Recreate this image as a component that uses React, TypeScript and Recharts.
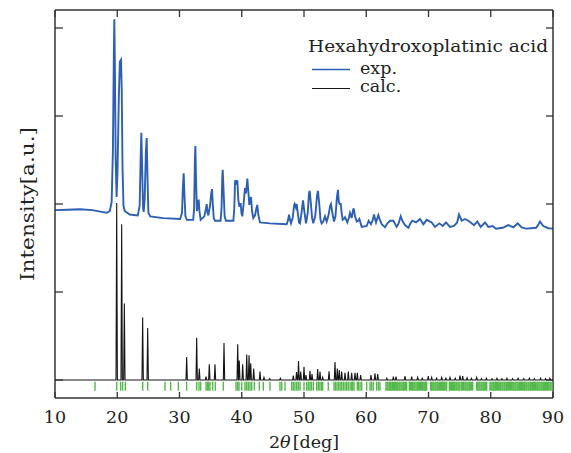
import { ComposedChart, Line, Scatter, XAxis, YAxis, Legend, Label } from 'recharts'

// ── Styles ───────────────────────────────────────────────────────────────────

const FONT = '"DejaVu Serif", serif'
const TEXT_COLOR = '#222222'
const AXIS_COLOR = '#333333'
const EXP_COLOR = '#2d5fb4'
const CALC_COLOR = '#151515'
const REFL_COLOR = '#55b94b'

// ── Data ─────────────────────────────────────────────────────────────────────

const xTicks = [10, 20, 30, 40, 50, 60, 70, 80, 90]
const yTicks = [0, 1, 2, 3, 4]

// measured pattern, [2θ, intensity] (offset by ~1.9)
const expPattern: [number, number][] = [
  [10, 1.93], [12, 1.935], [14, 1.94], [16, 1.93], [17.5, 1.91], [18.3, 1.9], [18.8, 1.92],
  [19.1, 2.02], [19.3, 2.6], [19.45, 3.7], [19.53, 4.1], [19.62, 3.6], [19.75, 2.5], [19.9, 2.08],
  [20.05, 2.4], [20.25, 3.2], [20.42, 3.62], [20.6, 3.64], [20.72, 3.3], [20.85, 2.4], [21.0, 1.98],
  [21.2, 1.92], [22.0, 1.88], [23.3, 1.87], [23.6, 1.98], [23.75, 2.5], [23.87, 2.81], [24.0, 2.4],
  [24.15, 1.95], [24.25, 1.91], [24.4, 2.05], [24.6, 2.6], [24.73, 2.75], [24.86, 2.3], [25.0, 1.9],
  [25.3, 1.86], [27.4, 1.84], [30.1, 1.83], [30.4, 1.9], [30.55, 2.2], [30.67, 2.35], [30.8, 2.1],
  [30.95, 1.86], [31.2, 1.82], [32.2, 1.82], [32.35, 1.95], [32.47, 2.5], [32.55, 2.66], [32.65, 2.3],
  [32.8, 1.92], [32.95, 1.98], [33.08, 2.05], [33.2, 1.92], [33.4, 1.82], [33.99, 1.86], [34.25, 1.95],
  [34.37, 2.0], [34.5, 1.9], [34.63, 1.87], [34.9, 1.98], [35.1, 2.12], [35.22, 2.17], [35.35, 2.0],
  [35.5, 1.84], [35.7, 1.81], [36.6, 1.81], [36.75, 1.95], [36.87, 2.3], [36.94, 2.39], [37.05, 2.2],
  [37.25, 1.86], [37.47, 1.81], [38.65, 1.81], [38.8, 1.95], [38.92, 2.25], [38.97, 2.27], [39.15, 2.22],
  [39.29, 2.27], [39.45, 2.05], [39.6, 1.97], [39.72, 2.0], [39.83, 2.0], [39.95, 1.9], [40.09, 1.86],
  [40.3, 2.0], [40.52, 2.18], [40.68, 2.12], [40.9, 2.29], [41.05, 2.15], [41.22, 1.99], [41.35, 2.05],
  [41.49, 2.08], [41.65, 1.92], [41.86, 1.84], [42.13, 1.87], [42.35, 1.95], [42.5, 1.99], [42.65, 1.88],
  [42.93, 1.79], [44.54, 1.78], [47.22, 1.77], [47.45, 1.82], [47.59, 1.88], [47.75, 1.82], [47.91, 1.78],
  [48.2, 1.85], [48.4, 1.98], [48.5, 2.0], [48.7, 1.96], [48.83, 2.0], [49.0, 1.9], [49.2, 1.79],
  [49.36, 1.78], [49.6, 1.9], [49.84, 2.04], [50.05, 1.92], [50.32, 1.78], [50.6, 1.9], [50.8, 2.12],
  [50.91, 2.15], [51.05, 2.05], [51.3, 1.84], [51.49, 1.78], [51.8, 1.86], [52.1, 2.1], [52.25, 2.15],
  [52.45, 2.0], [52.65, 1.82], [52.84, 1.78], [53.1, 1.8], [53.37, 1.86], [53.64, 1.8], [53.9, 1.86],
  [54.2, 1.98], [54.34, 2.0], [54.55, 1.9], [54.82, 1.8], [55.05, 1.86], [55.3, 2.08], [55.46, 2.16],
  [55.6, 2.02], [55.75, 2.0], [55.9, 2.0], [56.05, 1.9], [56.22, 1.82], [56.4, 1.83], [56.59, 1.85],
  [56.96, 1.79], [57.2, 1.84], [57.39, 1.9], [57.66, 1.84], [57.85, 1.92], [57.98, 1.95], [58.2, 1.86],
  [58.47, 1.8], [58.7, 1.81], [58.89, 1.83], [59.27, 1.74], [60.07, 1.75], [60.39, 1.81], [60.76, 1.77],
  [61.05, 1.82], [61.24, 1.88], [61.57, 1.79], [61.94, 1.875], [62.2, 1.82], [62.48, 1.77], [63.01, 1.735],
  [63.4, 1.78], [63.82, 1.81], [64.35, 1.81], [64.89, 1.74], [65.2, 1.78], [65.53, 1.86], [65.85, 1.8],
  [66.22, 1.76], [66.76, 1.73], [67.1, 1.78], [67.4, 1.81], [68.0, 1.79], [68.63, 1.83], [69.17, 1.77],
  [69.71, 1.82], [70.51, 1.79], [71.04, 1.74], [71.74, 1.78], [72.28, 1.75], [72.81, 1.79], [73.45, 1.74],
  [74.1, 1.75], [74.6, 1.79], [74.9, 1.88], [75.33, 1.81], [75.86, 1.83], [76.4, 1.81], [76.78, 1.79],
  [77.31, 1.76], [77.84, 1.8], [78.38, 1.74], [79.08, 1.79], [79.61, 1.74], [80.31, 1.75], [80.84, 1.72],
  [81.92, 1.73], [82.82, 1.76], [83.63, 1.735], [84.33, 1.78], [84.97, 1.735], [85.66, 1.72], [86.47, 1.725],
  [87.27, 1.73], [87.6, 1.76], [87.91, 1.8], [88.44, 1.75], [89.25, 1.725], [90, 1.72],
]

// calculated stick pattern, [2θ, height]
const calcPeaks: [number, number][] = [
  [19.91, 2.01], [20.71, 1.77], [21.14, 0.87], [24.08, 0.71], [24.89, 0.59], [31.15, 0.26],
  [32.76, 0.48], [33.18, 0.13], [34.26, 0.04], [34.79, 0.18], [35.7, 0.18], [37.15, 0.42],
  [39.35, 0.405], [39.6, 0.22], [40.15, 0.18], [40.8, 0.29], [41.17, 0.28], [41.44, 0.19],
  [41.92, 0.13], [42.93, 0.095], [43.57, 0.03], [44.5, 0.015], [46.2, 0.02], [48.28, 0.05],
  [48.8, 0.09], [49.12, 0.216], [49.47, 0.095], [50.0, 0.15], [50.32, 0.057], [50.96, 0.106],
  [51.29, 0.068], [52.2, 0.125], [52.57, 0.095], [53.0, 0.03], [54.02, 0.1], [54.98, 0.205],
  [55.35, 0.13], [55.67, 0.114], [56.05, 0.095], [56.59, 0.083], [57.12, 0.095], [57.66, 0.083],
  [58.19, 0.083], [58.57, 0.083], [59.1, 0.057], [60.76, 0.057], [61.4, 0.076], [61.84, 0.068],
  [63.3, 0.02], [64.35, 0.038], [64.78, 0.038], [66.22, 0.045], [67.3, 0.038], [68.26, 0.03],
  [69.0, 0.02], [69.97, 0.045], [70.51, 0.03], [71.3, 0.02], [72.12, 0.03], [72.8, 0.02],
  [73.45, 0.03], [74.3, 0.02], [75.06, 0.049], [75.49, 0.045], [76.2, 0.025], [76.9, 0.02],
  [77.74, 0.03], [78.5, 0.015], [79.3, 0.02], [80.2, 0.015], [81.0, 0.02], [81.8, 0.015],
  [82.6, 0.02], [83.5, 0.015], [84.4, 0.02], [85.3, 0.015], [86.2, 0.02], [87.0, 0.015],
  [88.0, 0.02], [88.8, 0.015], [89.5, 0.02],
]

// Bragg reflection positions (green ticks)
const reflections: number[] = [
  16.43, 19.91, 20.55, 20.87, 21.3, 24.09, 24.89, 27.67, 28.58, 29.81, 31.15, 32.76, 33.13, 33.4,
  34.26, 34.47, 34.69, 34.9, 35.33, 35.75, 37.04, 39.08, 39.35, 39.56, 39.99, 40.52, 40.79, 41.05,
  41.33, 41.6, 42.02, 42.82, 43.46, 44.54, 46.14, 46.42, 46.95, 48.02, 48.28, 48.55, 48.83, 49.09,
  49.36, 50.0, 50.43, 50.7, 50.96, 51.2, 51.5, 52.04, 52.3, 52.55, 52.8, 53.0, 53.9, 54.82, 55.05,
  55.3, 55.55, 55.8, 56.05, 56.32, 56.59, 56.85, 57.1, 57.4, 57.66, 57.82, 58.03, 58.57, 58.73,
  59.0, 59.27, 60.07, 60.6, 60.85, 61.13, 61.67, 61.95, 62.2,
  63.17, 63.35, 63.5, 63.7, 63.85, 64.0, 64.2, 64.38, 64.55, 64.7, 64.9, 65.05, 65.25, 65.4, 65.6,
  65.75, 65.95, 66.1, 66.3, 66.5, 66.92, 67.1, 67.3, 67.45, 67.65, 67.8, 68.0, 68.2, 68.35, 68.55,
  68.7, 68.9, 69.05, 69.25, 69.4, 69.55, 69.71, 70.35, 70.5, 70.7, 70.85, 71.05, 71.2, 71.4, 71.55,
  71.75, 71.9, 72.1, 72.25, 72.45, 72.6, 72.8, 72.92, 73.35, 73.5, 73.7, 73.85, 74.05, 74.2, 74.4,
  74.55, 74.75, 74.9, 75.06, 75.33, 75.5, 75.65, 75.85, 76.0, 76.2, 76.35, 76.55, 76.7, 76.9, 77.1,
  77.74, 77.9, 78.1, 78.25, 78.45, 78.6, 78.8, 78.95, 79.15, 79.35, 79.88, 80.05, 80.2, 80.4, 80.55,
  80.75, 80.9, 81.1, 81.25, 81.45, 81.6, 81.8, 81.95, 82.15, 82.3, 82.5, 82.65, 82.85, 83.0, 83.2,
  83.35, 83.55, 83.7, 83.9, 84.05, 84.25, 84.4, 84.6, 84.75, 84.95, 85.1, 85.3, 85.45, 85.65, 85.8,
  86.0, 86.15, 86.35, 86.5, 86.7, 86.85, 87.05, 87.2, 87.4, 87.55, 87.75, 87.9, 88.1, 88.25, 88.45,
  88.6, 88.8, 88.95, 89.15, 89.3, 89.5, 89.65, 89.85,
]
const reflectionLevel = -0.07

// ── Tables built for the chart ───────────────────────────────────────────────

const expData = expPattern.map(([x, y]) => ({ x, y }))
const calcData = [
  { x: 10, y: 0 },
  ...calcPeaks.flatMap(([x, h]) => [
    { x: x - 0.11, y: 0 },
    { x, y: h },
    { x: x + 0.11, y: 0 },
  ]),
  { x: 90, y: 0 },
]
const reflData = reflections.map((x) => ({ x, y: reflectionLevel }))

// ── Pieces ───────────────────────────────────────────────────────────────────

const ReflectionTick = (props: any) => {
  const { cx, cy } = props
  return <line x1={cx} x2={cx} y1={cy - 4.5} y2={cy + 4.5} stroke={REFL_COLOR} strokeWidth={1.4} />
}

// tick marks without labels
const NoLabel = () => <g />

function LegendBox() {
  const txt = { fontFamily: FONT, fill: TEXT_COLOR }
  return (
    <svg width={262} height={82} style={{ display: 'block' }}>
      <text x={8} y={32} fontSize={17.5} textLength={240} lengthAdjust="spacingAndGlyphs" {...txt}>
        Hexahydroxoplatinic acid
      </text>
      <line x1={12} x2={50} y1={49.5} y2={49.5} stroke={EXP_COLOR} strokeWidth={1.5} />
      <text x={60} y={53.5} fontSize={17.5} {...txt}>exp.</text>
      <line x1={12} x2={50} y1={68.5} y2={68.5} stroke={CALC_COLOR} strokeWidth={1.2} />
      <text x={60} y={72} fontSize={17.5} {...txt}>calc.</text>
    </svg>
  )
}

const tickStyle = { fontFamily: FONT, fontSize: 17.5, fill: TEXT_COLOR }
const axisLine = { stroke: AXIS_COLOR, strokeWidth: 1.5 }
const tickLine = { stroke: AXIS_COLOR, strokeWidth: 1.3 }

export default function App() {
  return (
    <div style={{ position: 'absolute', left: 0, top: 0, background: '#fff' }}>
      <ComposedChart width={571} height={453} margin={{ top: 0, right: 0, bottom: 0, left: 0 }}>
        <XAxis
          xAxisId="bottom"
          type="number"
          dataKey="x"
          domain={[10, 90]}
          ticks={xTicks}
          allowDataOverflow
          height={55}
          tickSize={-6}
          tickMargin={19}
          tick={tickStyle}
          axisLine={axisLine}
          tickLine={tickLine}
        >
          <Label
            content={({ viewBox }: any) => (
              <text
                x={viewBox.x + viewBox.width / 2}
                y={viewBox.y + 50}
                textAnchor="middle"
                fontFamily={FONT}
                fontSize={17.5}
                fill={TEXT_COLOR}
              >
                2<tspan fontStyle="italic">θ</tspan><tspan dx={2}>[deg]</tspan>
              </text>
            )}
          />
        </XAxis>
        <XAxis
          xAxisId="top"
          orientation="top"
          type="number"
          dataKey="x"
          domain={[10, 90]}
          ticks={xTicks}
          allowDataOverflow
          height={10}
          tickSize={-7}
          tick={NoLabel}
          axisLine={axisLine}
          tickLine={tickLine}
        />
        <YAxis
          yAxisId="left"
          type="number"
          domain={[-0.2045, 4.2045]}
          ticks={yTicks}
          allowDataOverflow
          width={55}
          tickSize={-8}
          tick={NoLabel}
          axisLine={axisLine}
          tickLine={tickLine}
        >
          <Label
            content={({ viewBox }: any) => {
              const cx = viewBox.x + 27
              const cy = viewBox.y + viewBox.height / 2
              return (
                <text
                  x={cx}
                  y={cy}
                  transform={`rotate(-90, ${cx}, ${cy})`}
                  textAnchor="middle"
                  dominantBaseline="central"
                  fontFamily={FONT}
                  fontSize={18}
                  textLength={154}
                  lengthAdjust="spacingAndGlyphs"
                  fill={TEXT_COLOR}
                >
                  Intensity[a.u.]
                </text>
              )
            }}
          />
        </YAxis>
        <YAxis
          yAxisId="right"
          orientation="right"
          type="number"
          domain={[-0.2045, 4.2045]}
          ticks={yTicks}
          allowDataOverflow
          width={18}
          tickSize={-7}
          tick={NoLabel}
          axisLine={axisLine}
          tickLine={tickLine}
        />
        <Line
          xAxisId="bottom"
          yAxisId="left"
          data={expData}
          dataKey="y"
          type="linear"
          stroke={EXP_COLOR}
          strokeWidth={1.9}
          dot={false}
          isAnimationActive={false}
        />
        <Line
          xAxisId="bottom"
          yAxisId="left"
          data={calcData}
          dataKey="y"
          type="linear"
          stroke={CALC_COLOR}
          strokeWidth={1.1}
          dot={false}
          isAnimationActive={false}
        />
        <Scatter
          xAxisId="bottom"
          yAxisId="left"
          data={reflData}
          dataKey="y"
          shape={ReflectionTick}
          isAnimationActive={false}
        />
        <Legend
          layout="horizontal"
          align="center"
          verticalAlign="middle"
          content={() => <LegendBox />}
          wrapperStyle={{ left: 300, top: 20, width: 262, height: 82 }}
        />
      </ComposedChart>
    </div>
  )
}
